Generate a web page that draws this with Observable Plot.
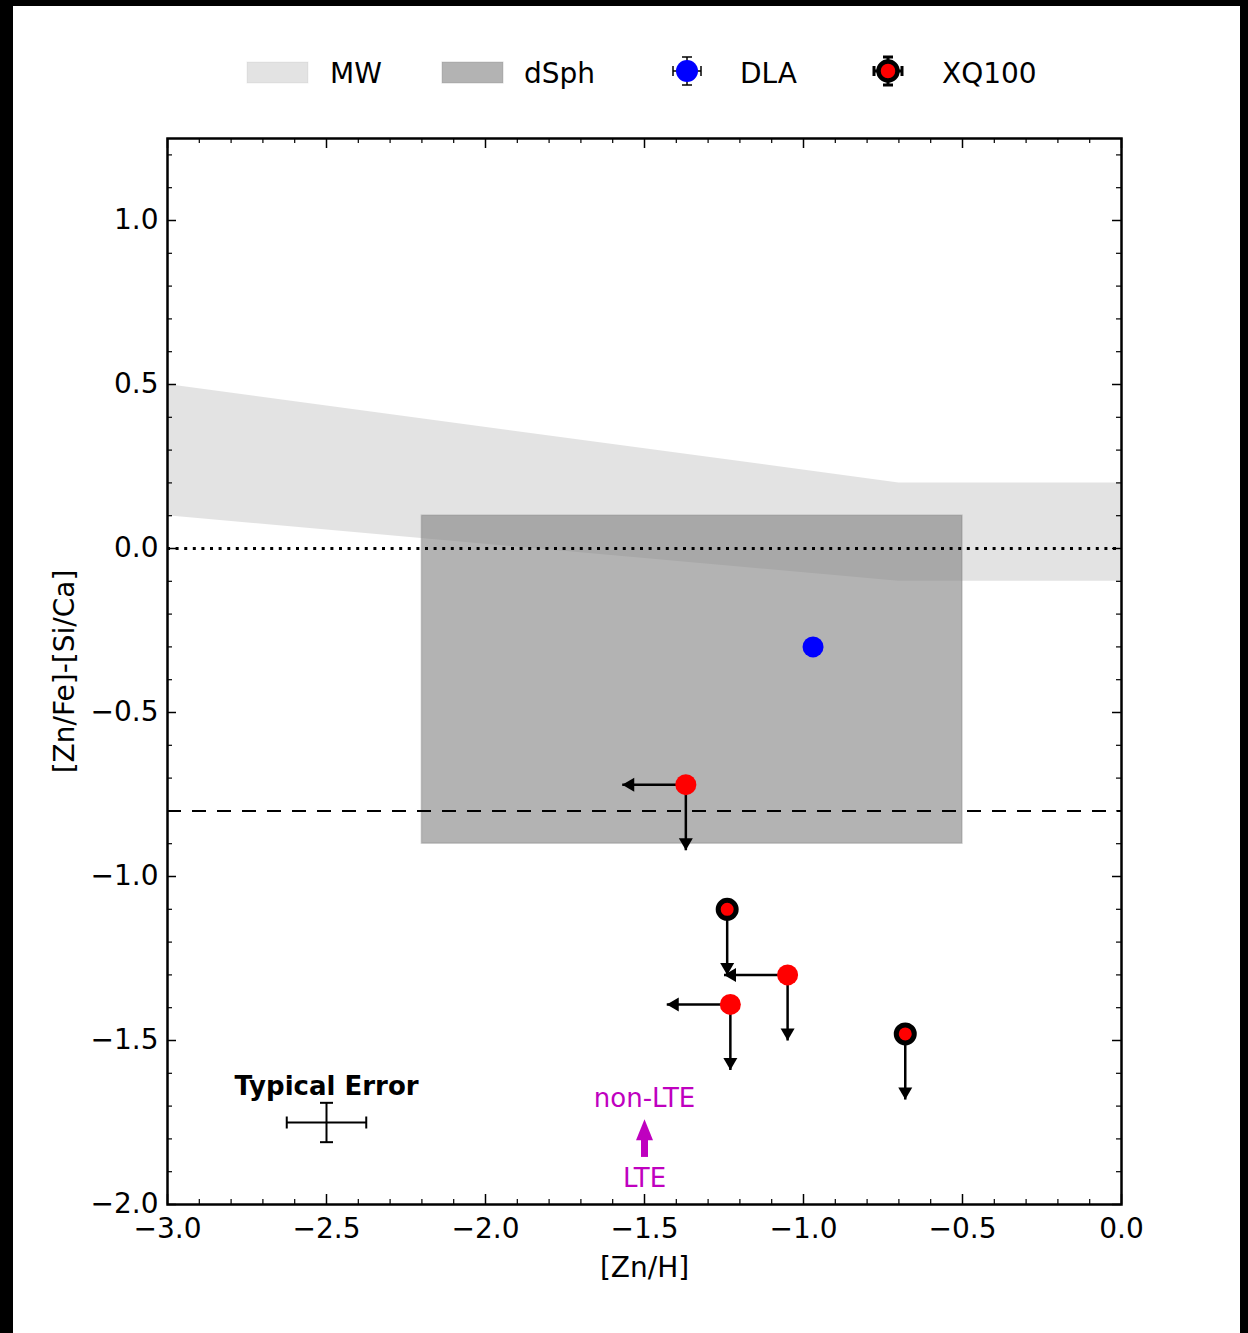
<!DOCTYPE html>
<html>
<head>
<meta charset="utf-8">
<script src="https://cdn.jsdelivr.net/npm/d3@7"></script>
<script src="https://cdn.jsdelivr.net/npm/@observablehq/plot@0.6"></script>
<style>
html, body { margin: 0; padding: 0; background: #000; }
#frame { position: absolute; left: 13px; top: 6px; width: 1227px; height: 1327px; background: #fff; overflow: hidden; font-family: "DejaVu Sans", sans-serif; }
#legend { position: relative; height: 100px; }
#legend svg, #chart svg { display: block; }
</style>
</head>
<body>
<div id="frame"><div id="legend"></div><div id="chart"></div></div>
<script>
// ---- data ----
const xTicks = [-3.0, -2.5, -2.0, -1.5, -1.0, -0.5, 0.0];
const yTicks = [-2.0, -1.5, -1.0, -0.5, 0.0, 0.5, 1.0];

const mwX = [-3.0, -0.7, 0.0];
const mwLow = [0.1, -0.1, -0.1];
const mwHigh = [0.5, 0.2, 0.2];

const dsphX = [-2.2, -0.5];
const dsphY = [-0.9, 0.1];

const dlaX = [-0.97];
const dlaY = [-0.30];

const xqX = [-1.37, -1.24, -1.05, -1.23, -0.68];
const xqY = [-0.72, -1.10, -1.30, -1.39, -1.48];
const xqLimitX = [true, false, true, true, false];   // upper limit in [Zn/H] (left arrow)
const xqLimitY = [true, true, true, true, true];     // upper limit in y (down arrow)
const xqEdge = [false, true, false, false, true];    // black-edged markers
const arrowLen = 0.2;

const refLines = [0.0];
const dashedLines = [-0.8];

const typErrX = [-2.5], typErrY = [-1.75], typErrDx = [0.125], typErrDy = [0.06];
const typErrLabelY = [-1.64];

const lteX = [-1.5];
const lteFromY = [-1.855], lteShaftEndY = [-1.80], lteTipY = [-1.74];
const nonLteLabelY = [-1.677], lteLabelY = [-1.921];

// ---- derived tables ----
const mw = mwX.map((x, i) => ({x, lo: mwLow[i], hi: mwHigh[i]}));
const dsph = [{x1: dsphX[0], x2: dsphX[1], y1: dsphY[0], y2: dsphY[1]}];
const dla = dlaX.map((x, i) => ({x, y: dlaY[i]}));
const xq = xqX.map((x, i) => ({x, y: xqY[i], lx: xqLimitX[i], ly: xqLimitY[i], edge: xqEdge[i]}));
const xqDown = xq.filter(d => d.ly);
const xqLeft = xq.filter(d => d.lx);
const te = typErrX.map((x, i) => ({x, y: typErrY[i], dx: typErrDx[i], dy: typErrDy[i]}));

const xMinor = d3.range(-30, 1).filter(i => i % 5 !== 0).map(i => i / 10);
const yMinor = d3.range(-20, 13).filter(i => i % 5 !== 0).map(i => i / 10);

// ---- custom symbols ----
const headDown = {draw(ctx) { ctx.moveTo(0, 0); ctx.lineTo(-7, -12); ctx.lineTo(7, -12); ctx.closePath(); }};
const headLeft = {draw(ctx) { ctx.moveTo(0, 0); ctx.lineTo(12, -7); ctx.lineTo(12, 7); ctx.closePath(); }};
const headUp = {draw(ctx) { ctx.moveTo(0, 0); ctx.lineTo(-8.5, 21); ctx.lineTo(8.5, 21); ctx.closePath(); }};
const vCap = {draw(ctx) { ctx.moveTo(0, -6); ctx.lineTo(0, 6); }};
const hCap = {draw(ctx) { ctx.moveTo(-6.5, 0); ctx.lineTo(6.5, 0); }};

// ---- layout ----
const W = 1227, H = 1227;
const mL = 154, mR = 119, mT = 32, mB = 129;
const innerH = H - mT - mB, innerW = W - mL - mR;
const fmt = d3.format(".1f");
const MAG = "#bf00bf";

const chart = Plot.plot({
  width: W, height: H,
  marginLeft: mL, marginRight: mR, marginTop: mT, marginBottom: mB,
  style: {fontFamily: "DejaVu Sans", fontSize: "28px", background: "transparent", color: "black"},
  x: {domain: [-3, 0]},
  y: {domain: [-2, 1.25]},
  marks: [
    Plot.areaY(mw, {x: "x", y1: "lo", y2: "hi", fill: "#808080", fillOpacity: 0.22}),
    Plot.rect(dsph, {x1: "x1", x2: "x2", y1: "y1", y2: "y2", fill: "#808080", fillOpacity: 0.6, stroke: "#808080", strokeOpacity: 0.35, strokeWidth: 1.5}),
    Plot.ruleY(refLines, {stroke: "black", strokeWidth: 3, strokeDasharray: "3 5.6"}),
    Plot.ruleY(dashedLines, {stroke: "black", strokeWidth: 2, strokeDasharray: "14 11"}),
    // XQ100 limit arrows
    Plot.link(xqDown, {x1: "x", y1: "y", x2: "x", y2: d => d.y - arrowLen, stroke: "black", strokeWidth: 2.5}),
    Plot.dot(xqDown, {x: "x", y: d => d.y - arrowLen, symbol: headDown, r: 5, fill: "black", stroke: "none"}),
    Plot.link(xqLeft, {x1: "x", y1: "y", x2: d => d.x - arrowLen, y2: "y", stroke: "black", strokeWidth: 2.5}),
    Plot.dot(xqLeft, {x: d => d.x - arrowLen, y: "y", symbol: headLeft, r: 5, fill: "black", stroke: "none"}),
    // points
    Plot.dot(dla, {x: "x", y: "y", r: 10.5, fill: "blue", stroke: "none"}),
    Plot.dot(xq.filter(d => !d.edge), {x: "x", y: "y", r: 10.5, fill: "red", stroke: "none"}),
    Plot.dot(xq.filter(d => d.edge), {x: "x", y: "y", r: 9, fill: "red", stroke: "black", strokeWidth: 5}),
    // typical error
    Plot.link(te, {x1: d => d.x - d.dx, x2: d => d.x + d.dx, y1: "y", y2: "y", stroke: "black", strokeWidth: 2}),
    Plot.link(te, {x1: "x", x2: "x", y1: d => d.y - d.dy, y2: d => d.y + d.dy, stroke: "black", strokeWidth: 2}),
    Plot.dot(te.flatMap(d => [{x: d.x - d.dx, y: d.y}, {x: d.x + d.dx, y: d.y}]), {x: "x", y: "y", symbol: vCap, r: 3, fill: "none", stroke: "black", strokeWidth: 2}),
    Plot.dot(te.flatMap(d => [{x: d.x, y: d.y - d.dy}, {x: d.x, y: d.y + d.dy}]), {x: "x", y: "y", symbol: hCap, r: 3, fill: "none", stroke: "black", strokeWidth: 2}),
    Plot.text(typErrX.map((x, i) => ({x, y: typErrLabelY[i]})), {x: "x", y: "y", text: () => "Typical Error", fontWeight: "bold", fontSize: 26, fill: "black"}),
    // LTE -> non-LTE
    Plot.link(lteX.map((x, i) => ({x, a: lteFromY[i], b: lteShaftEndY[i]})), {x1: "x", x2: "x", y1: "a", y2: "b", stroke: MAG, strokeWidth: 7}),
    Plot.dot(lteX.map((x, i) => ({x, y: lteTipY[i]})), {x: "x", y: "y", symbol: headUp, r: 5, fill: MAG, stroke: "none"}),
    Plot.text(lteX.map((x, i) => ({x, y: nonLteLabelY[i]})), {x: "x", y: "y", text: () => "non-LTE", fontSize: 26, fill: MAG}),
    Plot.text(lteX.map((x, i) => ({x, y: lteLabelY[i]})), {x: "x", y: "y", text: () => "LTE", fontSize: 26, fill: MAG}),
    // inward ticks on all four sides
    Plot.tickX(xTicks, {x: d => d, insetTop: innerH - 10, stroke: "black", strokeWidth: 1.5}),
    Plot.tickX(xTicks, {x: d => d, insetBottom: innerH - 10, stroke: "black", strokeWidth: 1.5}),
    Plot.tickX(xMinor, {x: d => d, insetTop: innerH - 5, stroke: "black", strokeWidth: 1.2}),
    Plot.tickX(xMinor, {x: d => d, insetBottom: innerH - 5, stroke: "black", strokeWidth: 1.2}),
    Plot.tickY(yTicks, {y: d => d, insetRight: innerW - 9, stroke: "black", strokeWidth: 1.5}),
    Plot.tickY(yTicks, {y: d => d, insetLeft: innerW - 9, stroke: "black", strokeWidth: 1.5}),
    Plot.tickY(yMinor, {y: d => d, insetRight: innerW - 5, stroke: "black", strokeWidth: 1.2}),
    Plot.tickY(yMinor, {y: d => d, insetLeft: innerW - 5, stroke: "black", strokeWidth: 1.2}),
    Plot.frame({stroke: "black", strokeWidth: 2.5}),
    Plot.axisX(xTicks, {tickSize: 0, tickPadding: 14, tickFormat: fmt, fontSize: 28, label: null}),
    Plot.axisY(yTicks, {tickSize: 0, tickPadding: 9, tickFormat: fmt, fontSize: 28, label: null}),
    Plot.text(["[Zn/H]"], {frameAnchor: "bottom", dy: 64, text: d => d, fontSize: 28, fill: "black", textAnchor: "middle", lineAnchor: "middle"}),
    Plot.text(["[Zn/Fe]-[Si/Ca]"], {frameAnchor: "left", dx: -102, rotate: -90, text: d => d, fontSize: 28, fill: "black", textAnchor: "middle", lineAnchor: "middle"})
  ]
});
document.getElementById("chart").appendChild(chart);

// ---- legend ----
const lg = d3.select("#legend").append("svg").attr("width", W).attr("height", 100)
  .style("font-family", "DejaVu Sans").style("font-size", "28px");
const ox = 13, oy = 6;
function swatch(px, label, tx, opacity) {
  lg.append("rect").attr("x", px - ox).attr("y", 62 - oy).attr("width", 61).attr("height", 21)
    .attr("fill", "#808080").attr("fill-opacity", opacity).attr("stroke", "#808080").attr("stroke-opacity", opacity * 0.5);
  lg.append("text").attr("x", tx - ox).attr("y", 83 - oy).text(label);
}
swatch(247, "MW", 330, 0.22);
swatch(442, "dSph", 524, 0.6);
function marker(cx, cy, fill, edge, w) {
  const g = lg.append("g").attr("transform", `translate(${cx - ox},${cy - oy})`)
    .attr("stroke", "black").attr("stroke-width", w);
  g.append("line").attr("x1", -14).attr("x2", 14).attr("y1", 0).attr("y2", 0);
  g.append("line").attr("x1", 0).attr("x2", 0).attr("y1", -14).attr("y2", 14);
  g.append("line").attr("x1", -14).attr("x2", -14).attr("y1", -5).attr("y2", 5);
  g.append("line").attr("x1", 14).attr("x2", 14).attr("y1", -5).attr("y2", 5);
  g.append("line").attr("x1", -5).attr("x2", 5).attr("y1", -14).attr("y2", -14);
  g.append("line").attr("x1", -5).attr("x2", 5).attr("y1", 14).attr("y2", 14);
  if (edge) g.append("circle").attr("r", 9.5).attr("fill", fill).attr("stroke", "black").attr("stroke-width", 4.5);
  else g.append("circle").attr("r", 11).attr("fill", fill).attr("stroke", "none");
}
marker(687, 71, "blue", false, 1.5);
lg.append("text").attr("x", 740 - ox).attr("y", 83 - oy).text("DLA");
marker(888, 71, "red", true, 3);
lg.append("text").attr("x", 942 - ox).attr("y", 83 - oy).text("XQ100");
</script>
</body>
</html>
